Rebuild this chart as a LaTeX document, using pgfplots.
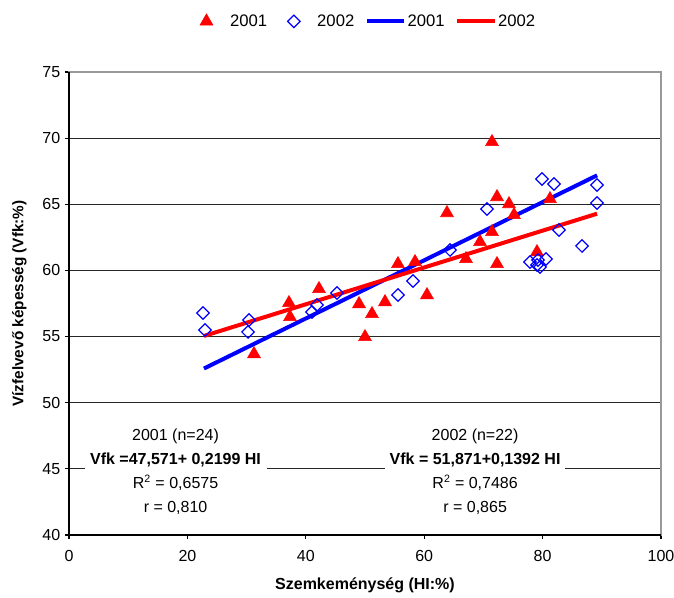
\documentclass[border=0pt]{standalone}
\usepackage{pgfplots}
\pgfplotsset{compat=1.18}
\usepackage{fontspec}
\setmainfont{Liberation Sans}
\pgfplotsset{
  longline/.style={legend image code/.code={\draw[##1] (0pt,0pt) -- (28pt,0pt);}},
  triimg/.style={legend image code/.code={\path[draw=none,fill=none] (0pt,0pt) -- (22pt,0pt); \draw[##1] plot coordinates {(5.25pt,0pt)};}},
  diaimg/.style={legend image code/.code={\path[draw=none,fill=none] (0pt,0pt) -- (28.5pt,0pt); \draw[##1] plot coordinates {(12pt,0pt)};}},
}
\begin{document}
\begin{tikzpicture}[x=1pt,y=1pt]
\begin{axis}[
  scale only axis,
  width=444pt, height=347.25pt,
  xmin=0, xmax=100, ymin=40, ymax=75,
  xtick={0,20,...,100}, ytick={40,45,...,75},
  xtick pos=bottom, ytick pos=left,
  tick align=outside, major tick length=3pt,
  tick style={black, line width=0.8pt},
  ymajorgrids, grid style={black!85, line width=0.8pt},
  axis line style={gray!80, line width=1pt},
  /pgf/number format/assume math mode=true,
  tick label style={font=\fontsize{12}{14}\selectfont},
  xticklabel style={yshift=-5pt},
  xlabel={\textbf{Szemkeménység (HI:\%)}},
  ylabel={\textbf{Vízfelvevő képesség (Vfk:\%)}},
  xlabel style={font=\fontsize{12}{14}\selectfont, yshift=-5.5pt},
  ylabel style={font=\fontsize{11.5}{14}\selectfont, yshift=5pt},
  legend columns=4,
  legend style={draw=none, fill=none, at={(rel axis cs:0.505,1)}, anchor=center, yshift=38pt,
    font=\fontsize{12.5}{14}\selectfont,
    nodes={inner xsep=1pt},
    /tikz/every odd column/.append style={column sep=0pt},
    /tikz/every even column/.append style={column sep=7pt}},
  clip=false,
]
\coordinate (psw) at (rel axis cs:0,0);
\coordinate (pne) at (rel axis cs:1,1);
\addplot[only marks, mark=triangle*, mark size=5.6pt, color=red, fill=red, triimg] coordinates {
(31.25,53.68) (37.16,57.54) (37.33,56.48) (42.23,58.60) (48.99,57.46)
(50.00,54.97) (51.18,56.71) (53.38,57.61) (55.57,60.49) (58.45,60.64)
(60.47,58.14) (63.85,64.34) (67.06,60.87) (69.43,62.15) (71.45,69.71)
(71.45,62.91) (72.30,65.55) (72.30,60.49) (74.32,65.02) (75.17,64.19)
(79.05,61.39) (81.25,65.40)
};
\addlegendentry{2001}
\addplot[only marks, mark=square, mark size=3.3pt, color=blue, line width=0.9pt, mark options={rotate=45}, diaimg] coordinates {
(22.64,56.78) (22.97,55.50) (30.41,56.25) (30.24,55.35) (41.05,56.86)
(41.89,57.39) (45.27,58.29) (55.57,58.14) (58.11,59.20) (64.36,61.55)
(70.61,64.64) (79.90,66.91) (81.93,66.53) (82.77,63.06) (86.66,61.85)
(77.87,60.64) (79.22,60.79) (79.05,60.41) (80.57,60.86) (79.56,60.26)
(89.19,66.46) (89.19,65.10)
};
\addlegendentry{2002}
\addplot[blue, line width=3pt, no marks, longline] coordinates {
(22.8,52.585) (89.2,67.186)
};
\addlegendentry{2001}
\addplot[red, line width=3pt, no marks, longline] coordinates {
(22.8,55.045) (89.2,64.288)
};
\addlegendentry{2002}
\draw[black, line width=1pt] (rel axis cs:0,1) -- (rel axis cs:0,0) -- (rel axis cs:1,0);
\node[fill=white, inner sep=0pt, minimum width=136.5pt, minimum height=72pt, align=center,
  font=\fontsize{12}{18}\selectfont] at (axis cs:18.0,44.8)
  {2001 (n=24)\\ \textbf{Vfk =47,571+ 0,2199 HI}\\ R\textsuperscript{2} = 0,6575\\ r = 0,810};
\node[fill=white, inner sep=0pt, minimum width=135pt, minimum height=72pt, align=center,
  font=\fontsize{12}{18}\selectfont] at (axis cs:68.6,44.8)
  {2002 (n=22)\\ \textbf{Vfk = 51,871+0,1392 HI}\\ R\textsuperscript{2} = 0,7486\\ r = 0,865};
\end{axis}
\pgfresetboundingbox
\useasboundingbox ([xshift=-51.75pt, yshift=-47.25pt]psw) rectangle ([xshift=9.75pt, yshift=54pt]pne);
\end{tikzpicture}
\end{document}
